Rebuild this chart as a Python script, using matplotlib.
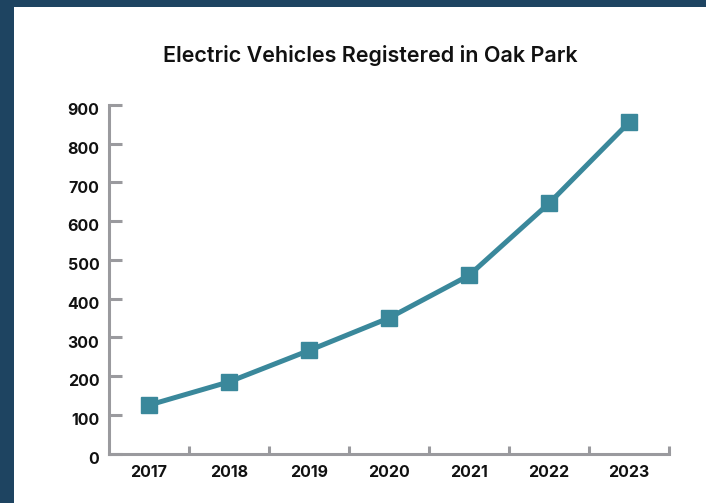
import matplotlib
matplotlib.use("Agg")
import matplotlib.pyplot as plt
from matplotlib.patches import Rectangle
from matplotlib.ticker import FixedLocator
from matplotlib.transforms import ScaledTranslation

# Registered electric vehicles per year
years = ["2017", "2018", "2019", "2020", "2021", "2022", "2023"]
vehicles = [125, 185, 266, 350, 460, 646, 855]
y_ticks = [0, 100, 200, 300, 400, 500, 600, 700, 800, 900]

NAVY = "#1e4461"
TEAL = "#3a889b"
AXIS_GREY = "#9a9a9e"
TEXT = "#111111"

plt.rcParams["font.family"] = ["Inter", "DejaVu Sans"]

fig = plt.figure(figsize=(7.06, 5.03), dpi=100)
fig.patch.set_facecolor(NAVY)
W, H = 706, 503

# white card on the navy frame
bg = fig.add_axes([0, 0, 1, 1], zorder=-10)
bg.set_axis_off()
bg.set_xlim(0, W)
bg.set_ylim(0, H)
bg.add_patch(Rectangle((14, 0), W - 14, H - 7, facecolor="white", edgecolor="none"))

ax = fig.add_axes([109 / W, (H - 453.5) / H, (669 - 109) / W, (453.5 - 105) / H])
ax.set_facecolor("none")

x = list(range(len(years)))
ax.plot(x, vehicles, color=TEAL, linewidth=3.6, marker="s", markersize=11,
        markerfacecolor=TEAL, markeredgecolor=TEAL, zorder=3, clip_on=False)

ax.set_xlim(-0.5, len(years) - 0.5)
ax.set_ylim(0, 900)

for side in ("top", "right"):
    ax.spines[side].set_visible(False)
for side in ("left", "bottom"):
    ax.spines[side].set_color(AXIS_GREY)
    ax.spines[side].set_linewidth(2.2)

ax.set_yticks(y_ticks)
ax.set_yticklabels([str(v) for v in y_ticks])
ax.set_xticks(x)
ax.set_xticklabels(years)
ax.xaxis.set_minor_locator(FixedLocator([i + 0.5 for i in x]))

ax.tick_params(axis="y", direction="in", length=9.5, width=2.2, color=AXIS_GREY,
               pad=7, labelsize=11.5, labelcolor=TEXT)
ax.tick_params(axis="x", which="major", length=0, pad=8, labelsize=11.5,
               labelcolor=TEXT)
ax.tick_params(axis="x", which="minor", direction="in", length=5.5, width=2.2,
               color=AXIS_GREY)

# y labels sit slightly below their ticks
shift = ScaledTranslation(0, -3 / 72, fig.dpi_scale_trans)
for lab in ax.get_yticklabels():
    lab.set_transform(lab.get_transform() + shift)
for lab in ax.get_xticklabels() + ax.get_yticklabels():
    lab.set_fontweight("bold")

fig.text(370 / W, (H - 55) / H, "Electric Vehicles Registered in Oak Park",
         ha="center", va="center", fontsize=15.5, fontweight="semibold", color=TEXT)

fig.savefig("out.png", dpi=100, facecolor=fig.get_facecolor())
